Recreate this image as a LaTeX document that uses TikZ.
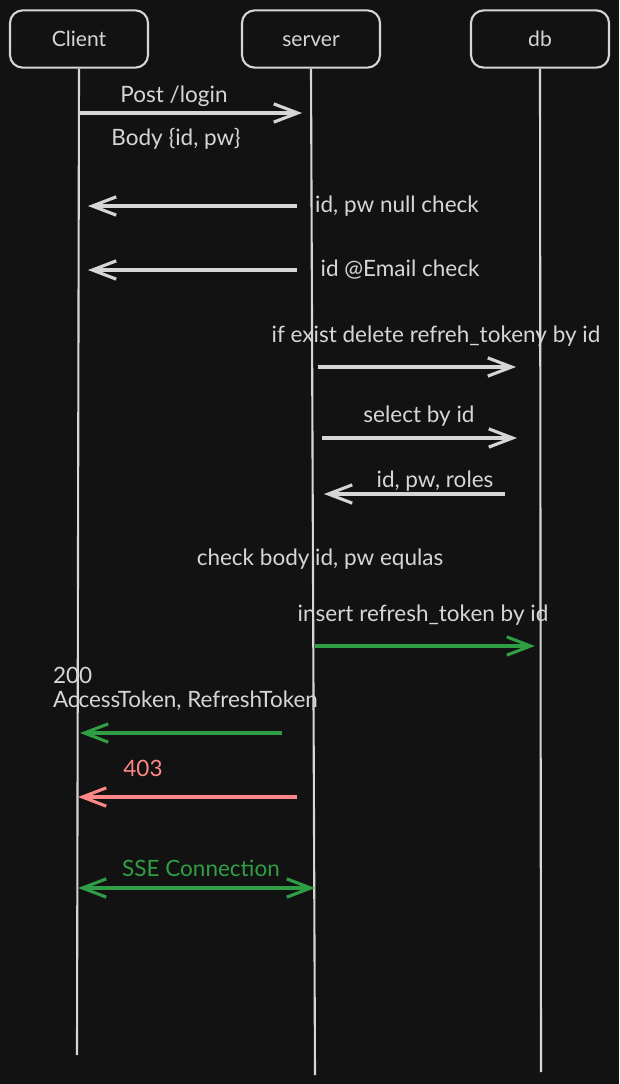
\documentclass[tikz,border=0pt]{standalone}
\usepackage{fontspec}
\setmainfont{Lato}
\usetikzlibrary{arrows.meta}
\definecolor{bg}{HTML}{121212}
\definecolor{ink}{HTML}{D6D6D6}
\definecolor{okgreen}{HTML}{2F9E44}
\definecolor{errred}{HTML}{FF8787}
\begin{document}
\begin{tikzpicture}[x=0.025cm, y=-0.025cm, ink, line width=1.5pt,
   actor/.style={draw, rounded corners=9pt, minimum width=3.45cm, minimum height=1.43cm, text height=10pt, text depth=0pt, font=\fontsize{15}{18}\selectfont},
   msg/.style={-{Straight Barb[length=17pt, width=13pt]}, line width=2.2pt},
   lbl/.style={font=\fontsize{16}{19}\selectfont}]
   \fill[bg] (0,0) rectangle (619,1084);
   \useasboundingbox (0,0) rectangle (619,1084);
   % actors and lifelines
   \node[actor] (client) at (79,39) {Client};
   \node[actor] (server) at (311,39) {server};
   \node[actor] (db)     at (540,39) {db};
   \coordinate (clientEnd) at (77,1055);
   \coordinate (serverEnd) at (315,1075);
   \coordinate (dbEnd)     at (541,1072);
   \draw (client.south) -- (clientEnd);
   \draw (server.south) -- (serverEnd);
   \draw (db.south)     -- (dbEnd);
   % login request
   \coordinate (a1s) at (79,113);  \coordinate (a1e) at (302,113);
   \draw[msg] (a1s) -- (a1e);
   \node[lbl] (login) at (174,96) {Post /login};
   \node[lbl] (body)  at (176,139) {Body \{id, pw\}};
   % validation
   \coordinate (a2s) at (297,206); \coordinate (a2e) at (88,206);
   \draw[msg] (a2s) -- (a2e);
   \node[lbl] (nullchk) at (397,206) {id, pw null check};
   \coordinate (a3s) at (297,270); \coordinate (a3e) at (88,270);
   \draw[msg] (a3s) -- (a3e);
   \node[lbl] (mailchk) at (400,270) {id @Email check};
   % db calls
   \node[lbl] (delete) at (436,336) {if exist delete refreh\_tokeny by id};
   \coordinate (a4s) at (318,367); \coordinate (a4e) at (516,367);
   \draw[msg] (a4s) -- (a4e);
   \node[lbl] (select) at (419,416) {select by id};
   \coordinate (a5s) at (322,438); \coordinate (a5e) at (517,438);
   \draw[msg] (a5s) -- (a5e);
   \node[lbl] (roles) at (435,481) {id, pw, roles};
   \coordinate (a6s) at (505,494); \coordinate (a6e) at (324,494);
   \draw[msg] (a6s) -- (a6e);
   \node[lbl] (equal) at (320,559) {check body id, pw equlas};
   \node[lbl] (insert) at (423,615) {insert refresh\_token by id};
   \coordinate (a7s) at (315,646); \coordinate (a7e) at (535,646);
   \draw[msg, okgreen] (a7s) -- (a7e);
   % responses
   \node[lbl, anchor=west, inner xsep=0pt] (ok)     at (52,675) {200};
   \node[lbl, anchor=west, inner xsep=0pt] (tokens) at (52,701) {AccessToken, RefreshToken};
   \coordinate (a8s) at (282,733); \coordinate (a8e) at (80,733);
   \draw[msg, okgreen] (a8s) -- (a8e);
   \node[lbl, errred] (forbid) at (143,768) {403};
   \coordinate (a9s) at (297,797); \coordinate (a9e) at (78,797);
   \draw[msg, errred] (a9s) -- (a9e);
   \node[lbl, okgreen] (sse) at (201,868) {SSE Connection};
   \coordinate (a10s) at (78,888); \coordinate (a10e) at (315,888);
   \draw[msg, okgreen, {Straight Barb[length=17pt, width=13pt]}-{Straight Barb[length=17pt, width=13pt]}] (a10s) -- (a10e);
\end{tikzpicture}
\end{document}
